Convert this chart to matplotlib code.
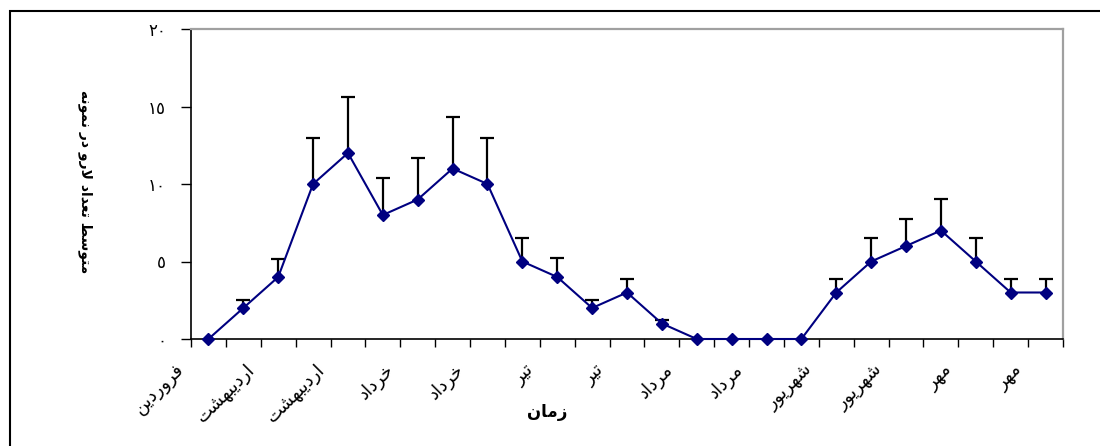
import numpy as np
import matplotlib
matplotlib.use('Agg')
import matplotlib.pyplot as plt
from matplotlib.patches import Rectangle

# Persian letters -> presentation forms (isolated, final, initial, medial)
FORMS = {
    'ا': ('\uFE8D', '\uFE8E', None, None),
    'ب': ('\uFE8F', '\uFE90', '\uFE91', '\uFE92'),
    'ت': ('\uFE95', '\uFE96', '\uFE97', '\uFE98'),
    'خ': ('\uFEA5', '\uFEA6', '\uFEA7', '\uFEA8'),
    'د': ('\uFEA9', '\uFEAA', None, None),
    'ر': ('\uFEAD', '\uFEAE', None, None),
    'ز': ('\uFEAF', '\uFEB0', None, None),
    'س': ('\uFEB1', '\uFEB2', '\uFEB3', '\uFEB4'),
    'ش': ('\uFEB5', '\uFEB6', '\uFEB7', '\uFEB8'),
    'ط': ('\uFEC1', '\uFEC2', '\uFEC3', '\uFEC4'),
    'ع': ('\uFEC9', '\uFECA', '\uFECB', '\uFECC'),
    'ف': ('\uFED1', '\uFED2', '\uFED3', '\uFED4'),
    'ل': ('\uFEDD', '\uFEDE', '\uFEDF', '\uFEE0'),
    'م': ('\uFEE1', '\uFEE2', '\uFEE3', '\uFEE4'),
    'ن': ('\uFEE5', '\uFEE6', '\uFEE7', '\uFEE8'),
    'ه': ('\uFEE9', '\uFEEA', '\uFEEB', '\uFEEC'),
    'و': ('\uFEED', '\uFEEE', None, None),
    'ی': ('\uFBFC', '\uFBFD', '\uFBFE', '\uFBFF'),
}


def joins_next(c):
    return c in FORMS and FORMS[c][2] is not None


'''
    Shapes Persian text and reverses it, since matplotlib has no bidi support
'''
def fa(text):
    out = []
    i = 0
    while i < len(text):
        c = text[i]
        if c not in FORMS:
            out.append(c)
            i += 1
            continue
        prev = text[i - 1] if i > 0 else ''
        nxt = text[i + 1] if i + 1 < len(text) else ''
        after_join = joins_next(prev)
        # lam-alef ligature
        if c == 'ل' and nxt == 'ا':
            out.append('\uFEFC' if after_join else '\uFEFB')
            i += 2
            continue
        before_join = joins_next(c) and nxt in FORMS
        iso, fin, ini, med = FORMS[c]
        if after_join and before_join:
            out.append(med)
        elif after_join:
            out.append(fin)
        elif before_join:
            out.append(ini)
        else:
            out.append(iso)
        i += 1
    return ''.join(out)[::-1]


def fa_digits(n):
    return str(n).translate(str.maketrans('0123456789', '٠١٢٣٤٥٦٧٨٩'))


# data
means = [0, 2, 4, 10, 12, 8, 9, 11, 10, 5, 4, 2, 3, 1, 0, 0, 0, 0, 3, 5, 6, 7, 5, 3, 3]
errors = [0, 0.5, 1.15, 3, 3.6, 2.4, 2.7, 3.3, 3, 1.5, 1.2, 0.5, 0.9, 0.25, 0, 0, 0, 0,
          0.85, 1.5, 1.75, 2.05, 1.5, 0.85, 0.85]
months = ['فروردین', 'اردیبهشت', 'اردیبهشت', 'خرداد', 'خرداد', 'تیر', 'تیر',
          'مرداد', 'مرداد', 'شهریور', 'شهریور', 'مهر', 'مهر']
month_pos = [-1, 1, 3, 5, 7, 9, 11, 13, 15, 17, 19, 21, 23]
y_ticks = [0, 5, 10, 15, 20]
x_title = 'زمان'
y_title = 'متوسط تعداد لارو در نمونه'

plt.rcParams['font.family'] = ['DejaVu Sans']

fig = plt.figure(figsize=(11, 4.46), dpi=100, facecolor='white')
ax = fig.add_axes([191 / 1100, 1 - 339 / 446, 872 / 1100, 310 / 446])

xs = np.arange(len(means))
vals = np.array(means, dtype=float)
errs = np.array(errors)
m = errs > 0

eb = ax.errorbar(xs[m], vals[m], yerr=[np.zeros(m.sum()), errs[m]], fmt='none',
                 ecolor='black', elinewidth=1.6, capsize=5, capthick=1.6, zorder=2)
for cap in eb[1]:
    if np.allclose(cap.get_ydata(), vals[m]):
        cap.set_visible(False)

ax.plot(xs, vals, color='#000080', lw=1.5, marker='D', markersize=6.5,
        markerfacecolor='#000080', markeredgecolor='#000080', zorder=3, clip_on=False)

ax.set_xlim(-0.5, len(means) - 0.5)
ax.set_ylim(0, 20)
ax.set_xticks(np.arange(-0.5, len(means), 1))
ax.set_xticklabels([])
ax.set_yticks(y_ticks)
ax.set_yticklabels([fa_digits(v) for v in y_ticks], fontsize=12)
ax.tick_params(axis='y', length=7, width=1, pad=11)
ax.tick_params(axis='x', length=6, width=1)

for s in ['left', 'bottom']:
    ax.spines[s].set_color('black')
    ax.spines[s].set_linewidth(1.2)
for s in ['top', 'right']:
    ax.spines[s].set_color('#a0a0a0')
    ax.spines[s].set_linewidth(1.6)

for p, name in zip(month_pos, months):
    ax.annotate(fa(name), xy=(p, 0), xycoords=('data', 'axes fraction'),
                xytext=(6, -20), textcoords='offset points', rotation=45,
                rotation_mode='anchor', ha='right', va='center', fontsize=13,
                annotation_clip=False)

fig.text(547 / 1100, 1 - 412 / 446, fa(x_title), ha='center', va='center',
         fontsize=12, fontweight='bold')
fig.text(85 / 1100, 1 - 182 / 446, fa(y_title), ha='center', va='center',
         rotation=270, fontsize=10, fontweight='bold')

# chart area border
fig.add_artist(Rectangle((10 / 1100, -0.1), 1.2, 0.1 + 1 - 11 / 446,
                         transform=fig.transFigure, fill=False,
                         edgecolor='black', linewidth=1.5))

fig.savefig('out.png', dpi=100, facecolor='white')
